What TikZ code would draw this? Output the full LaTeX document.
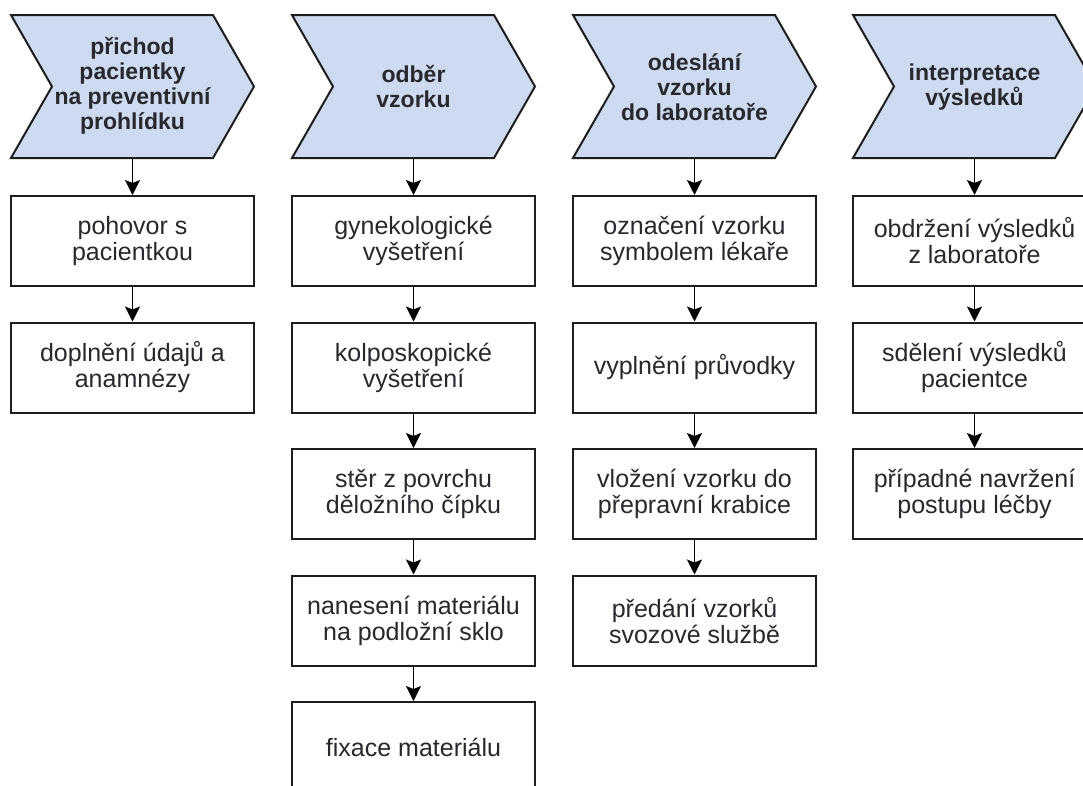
\documentclass[tikz,border=0pt]{standalone}
\usepackage{fontspec}
\setmainfont{Liberation Sans}
\usetikzlibrary{arrows.meta}
\definecolor{chev}{RGB}{205,218,240}
\definecolor{edge}{RGB}{30,30,30}
\definecolor{txt}{RGB}{40,40,45}
\tikzset{
  chevshape/.style={draw=edge, line width=2pt, fill=chev, line join=miter},
  chevtext/.style={align=center, font=\fontsize{23}{25}\selectfont\bfseries, text=txt, inner sep=0pt},
  stepbox/.style={draw=edge, line width=2pt, minimum width=243pt, minimum height=90pt,
    align=center, font=\fontsize{25}{26}\selectfont, text=txt, inner sep=0pt},
  arr/.style={draw=black, line width=1.6pt, -{Stealth[length=15pt,width=15pt,inset=3pt]}}
}
\begin{document}
\begin{tikzpicture}[x=1pt,y=-1pt]
\useasboundingbox (0,0) rectangle (1083,785);
\clip (0,0) rectangle (1083,785);
\fill[white] (0,0) rectangle (1083,785);
% chevrons
\foreach \L/\n in {11/1,292/2,573/3,853/4}{
  \draw[chevshape] (\L,15) -- ({\L+202},15) -- ({\L+243},86.5) -- ({\L+202},158)
     -- (\L,158) -- ({\L+41},86.5) -- cycle;
  \coordinate (c\n) at ({\L+121.5},158);
}
\node[chevtext] (t1) at (132.5,86) {přichod\\pacientky\\na preventivní\\prohlídku};
\node[chevtext] (t2) at (413.5,87) {odběr\\vzorku};
\node[chevtext] (t3) at (694.5,87) {odeslání\\vzorku\\do laboratoře};
\node[chevtext] (t4) at (974.5,87) {interpretace\\výsledků};
% column 1
\node[stepbox] (b11) at (132.5,241) {pohovor s\\pacientkou};
\node[stepbox] (b12) at (132.5,367.5) {doplnění údajů a\\anamnézy};
% column 2
\node[stepbox] (b21) at (413.5,241) {gynekologické\\vyšetření};
\node[stepbox] (b22) at (413.5,367.5) {kolposkopické\\vyšetření};
\node[stepbox] (b23) at (413.5,494) {stěr z povrchu\\děložního čípku};
\node[stepbox] (b24) at (413.5,620.5) {nanesení materiálu\\na podložní sklo};
\node[stepbox] (b25) at (413.5,747) {fixace materiálu};
% column 3
\node[stepbox] (b31) at (694.5,241) {označení vzorku\\symbolem lékaře};
\node[stepbox] (b32) at (694.5,367.5) {vyplnění průvodky};
\node[stepbox] (b33) at (694.5,494) {vložení vzorku do\\přepravní krabice};
\node[stepbox] (b34) at (694.5,620.5) {předání vzorků\\svozové službě};
% column 4
\node[stepbox] (b41) at (974.5,241) {obdržení výsledků\\z laboratoře};
\node[stepbox] (b42) at (974.5,367.5) {sdělení výsledků\\pacientce};
\node[stepbox] (b43) at (974.5,494) {případné navržení\\postupu léčby};
% arrows
\draw[arr] (c1) -- (b11);
\draw[arr] (b11) -- (b12);
\draw[arr] (c2) -- (b21);
\draw[arr] (b21) -- (b22);
\draw[arr] (b22) -- (b23);
\draw[arr] (b23) -- (b24);
\draw[arr] (b24) -- (b25);
\draw[arr] (c3) -- (b31);
\draw[arr] (b31) -- (b32);
\draw[arr] (b32) -- (b33);
\draw[arr] (b33) -- (b34);
\draw[arr] (c4) -- (b41);
\draw[arr] (b41) -- (b42);
\draw[arr] (b42) -- (b43);
\end{tikzpicture}
\end{document}
